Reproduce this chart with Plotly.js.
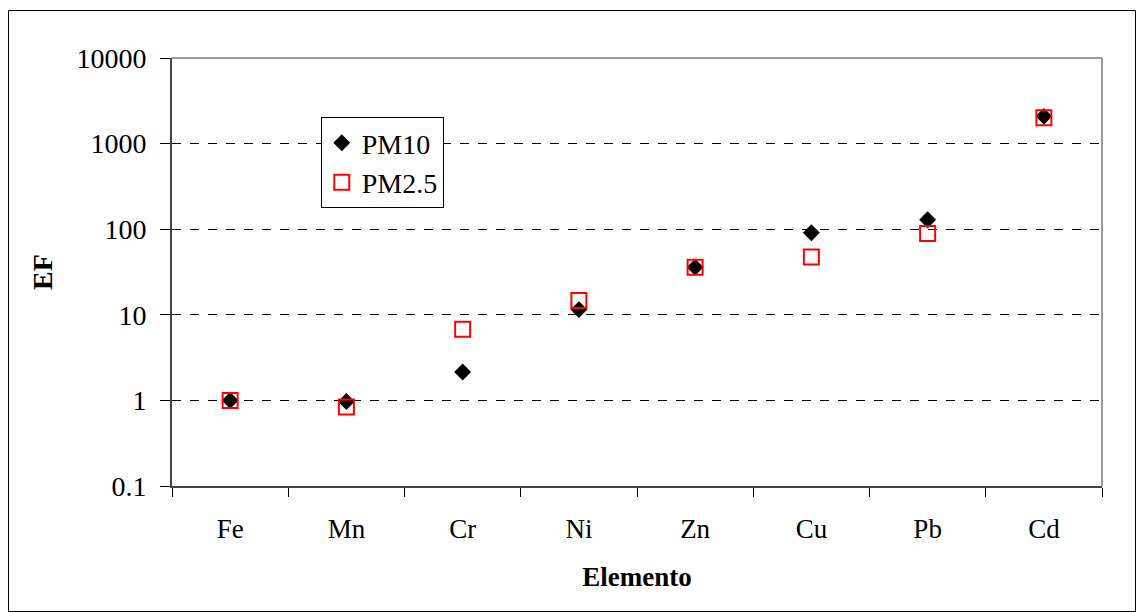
<!DOCTYPE html>
<html>
<head>
<meta charset="utf-8">
<script src="https://cdn.plot.ly/plotly-3.0.1.min.js"></script>
<style>html,body{margin:0;padding:0;background:#fff}#chart{width:1136px;height:612px}</style>
</head>
<body>
<div id="chart"></div>
<script>
const elements = ["Fe", "Mn", "Cr", "Ni", "Zn", "Cu", "Pb", "Cd"];
const pm10 = [1.0, 0.97, 2.15, 11.5, 36, 91, 129, 2080];
const pm25 = [1.0, 0.84, 6.8, 14.7, 36, 47.5, 89, 2010];
const yTickVals = [0.1, 1, 10, 100, 1000, 10000];
const yTickText = ["0.1", "1", "10", "100", "1000", "10000"];

const serif = "Liberation Serif, Times New Roman, serif";

const traces = [
  {
    x: elements, y: pm10, name: "PM10", type: "scatter", mode: "markers",
    marker: {symbol: "diamond", size: 13, color: "#000000", line: {width: 0}},
    cliponaxis: false
  },
  {
    x: elements, y: pm25, name: "PM2.5", type: "scatter", mode: "markers",
    marker: {symbol: "square-open", size: 15, color: "#ff0000", line: {width: 2, color: "#ff0000"}},
    cliponaxis: false
  }
];

const layout = {
  width: 1136, height: 612,
  margin: {l: 172, r: 34, t: 58, b: 126},
  paper_bgcolor: "#ffffff", plot_bgcolor: "#ffffff",
  font: {family: serif, color: "#000000", size: 22},
  showlegend: true,
  legend: {
    x: 0.160, y: 0.862, xanchor: "left", yanchor: "top",
    bordercolor: "#000000", borderwidth: 1, bgcolor: "#ffffff",
    font: {family: serif, size: 28, color: "#000000"},
    tracegroupgap: 0
  },
  xaxis: {
    type: "category",
    tickson: "boundaries",
    ticks: "outside", ticklen: 9, tickcolor: "#000000", tickwidth: 1,
    showline: true, linecolor: "#444444", linewidth: 2,
    showgrid: false, zeroline: false,
    tickfont: {family: serif, size: 27, color: "#000000"},
    ticklabelstandoff: 18,
    title: {text: "<b>Elemento</b>", font: {family: serif, size: 27, color: "#000000"}, standoff: 24},
    range: [-0.5, 7.5]
  },
  yaxis: {
    type: "log", range: [-1, 4],
    tickvals: yTickVals, ticktext: yTickText,
    ticks: "outside", ticklen: 10, tickcolor: "#000000", tickwidth: 1,
    showline: true, linecolor: "#444444", linewidth: 2,
    showgrid: true, gridcolor: "#000000", gridwidth: 1, griddash: "dash",
    zeroline: false,
    tickfont: {family: serif, size: 28, color: "#000000"},
    ticklabelstandoff: 8,
    title: {text: "<b>EF</b>", font: {family: serif, size: 28, color: "#000000"}, standoff: 16}
  },
  shapes: [
    {type: "line", xref: "paper", yref: "paper", x0: 0, x1: 1, y0: 1, y1: 1,
     line: {color: "#999999", width: 2}},
    {type: "line", xref: "paper", yref: "paper", x0: 1, x1: 1, y0: 0, y1: 1,
     line: {color: "#999999", width: 2}},
    {type: "rect", xref: "paper", yref: "paper",
     x0: (8.5 - 172) / 930, x1: (1135.5 - 172) / 930,
     y0: (486 - 611.5) / 428, y1: 1 + (58 - 10.5) / 428,
     line: {color: "#000000", width: 1}, layer: "below"}
  ]
};

Plotly.newPlot("chart", traces, layout, {staticPlot: true, displayModeBar: false});
</script>
</body>
</html>
